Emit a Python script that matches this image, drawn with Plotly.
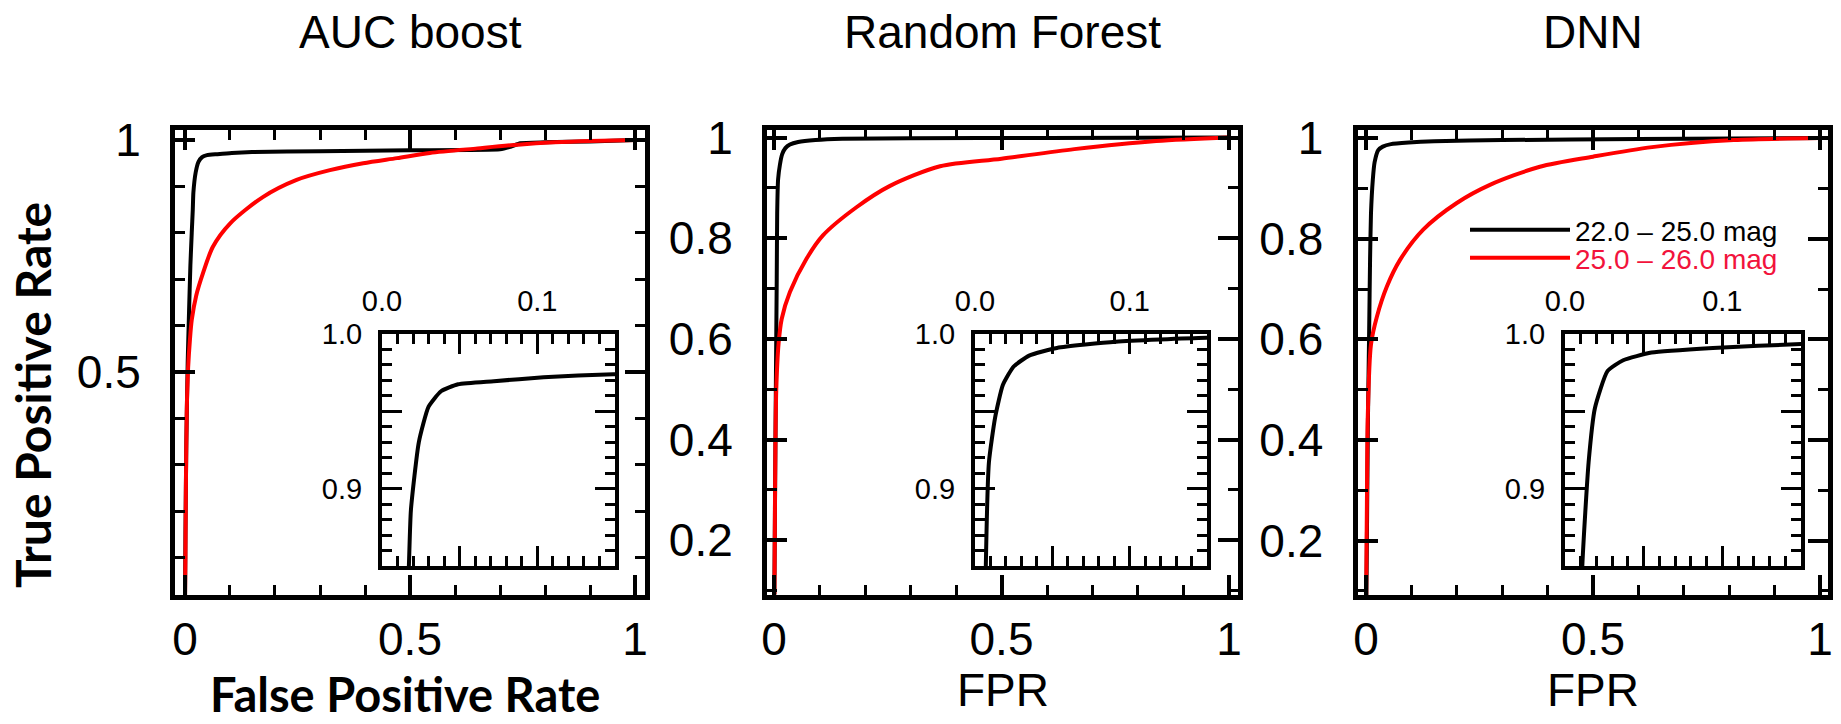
import plotly.graph_objects as go

# ---------------- data ----------------
TITLES = ["AUC boost", "Random Forest", "DNN"]
LEGEND_NAMES = ["22.0 – 25.0 mag", "25.0 – 26.0 mag"]

AUC_FPR_BLACK = [0.0, 0.001, 0.003, 0.006, 0.009, 0.012, 0.015, 0.0173, 0.0186, 0.0237, 0.030, 0.038,
                 0.049, 0.072, 0.104, 0.149, 0.30, 0.50, 0.70, 0.725, 0.745, 0.80, 0.90, 1.0]
AUC_TPR_BLACK = [0.0, 0.15, 0.35, 0.52, 0.63, 0.73, 0.80, 0.85, 0.886, 0.930, 0.953, 0.963,
                 0.9675, 0.9695, 0.972, 0.974, 0.976, 0.978, 0.980, 0.986, 0.993, 0.995, 0.997, 1.0]
AUC_FPR_RED = [0.0, 0.001, 0.002, 0.004, 0.007, 0.011, 0.015, 0.025, 0.04, 0.062, 0.10, 0.173,
               0.248, 0.322, 0.396, 0.471, 0.544, 0.65, 0.74, 0.82, 0.90, 1.0]
AUC_TPR_RED = [0.0, 0.10, 0.25, 0.42, 0.51, 0.57, 0.612, 0.665, 0.713, 0.77, 0.82, 0.877,
               0.914, 0.935, 0.95, 0.961, 0.972, 0.982, 0.99, 0.995, 0.998, 1.0]

RF_FPR_BLACK = [0.0, 0.002, 0.004, 0.006, 0.007, 0.009, 0.013, 0.018, 0.025, 0.035, 0.053, 0.091,
                0.15, 0.30, 0.60, 1.0]
RF_TPR_BLACK = [0.0, 0.25, 0.50, 0.72, 0.85, 0.917, 0.946, 0.967, 0.979, 0.986, 0.991, 0.995,
                0.9975, 0.9985, 0.9993, 1.0]
RF_FPR_RED = [0.0, 0.001, 0.002, 0.003, 0.005, 0.01, 0.017, 0.035, 0.072, 0.108, 0.182, 0.255,
              0.365, 0.50, 0.66, 0.84, 1.0]
RF_TPR_RED = [0.0, 0.10, 0.25, 0.38, 0.50, 0.59, 0.64, 0.693, 0.76, 0.806, 0.862, 0.904,
              0.943, 0.958, 0.977, 0.993, 1.0]

DNN_FPR_BLACK = [0.0, 0.002, 0.004, 0.007, 0.009, 0.011, 0.015, 0.019, 0.027, 0.037, 0.055, 0.094,
                 0.15, 0.30, 0.60, 1.0]
DNN_TPR_BLACK = [0.0, 0.2, 0.42, 0.62, 0.76, 0.85, 0.917, 0.952, 0.976, 0.983, 0.988, 0.991,
                 0.9935, 0.996, 0.998, 1.0]
DNN_FPR_RED = [0.0, 0.0005, 0.002, 0.004, 0.011, 0.024, 0.046, 0.075, 0.126, 0.20, 0.273, 0.383,
               0.50, 0.63, 0.81, 1.0]
DNN_TPR_RED = [0.0, 0.10, 0.27, 0.45, 0.59, 0.645, 0.705, 0.758, 0.818, 0.871, 0.907, 0.943,
               0.963, 0.982, 0.996, 1.0]

INSET_X_TICKS = [0.0, 0.05, 0.10, 0.15]
INSET_X_LABELS = ["0.0", "", "0.1", ""]
INSET_Y_TICKS = [0.85, 0.90, 0.95, 1.0]
INSET_Y_LABELS = ["", "0.9", "", "1.0"]

# ---------------- layout geometry ----------------
W, H = 1841, 724
RED = "#ff0000"
RED_TEXT = "#f2133c"
NUM_FONT = "Liberation Sans, Arial, Helvetica, sans-serif"
BOLD_FONT = "Lato, Open Sans, sans-serif"

MAIN_X_PX = [(175, 645), (767, 1238), (1357.5, 1827.5)]
MAIN_Y_PX = [(130, 595), (129.5, 594.5), (130, 595)]
MAIN_X_RANGE = [(-0.0222, 1.0222), (-0.0154, 1.0198), (-0.0187, 1.0165)]
MAIN_Y_RANGE = [(0.0194, 1.0216), (0.092, 1.016), (0.092, 1.016)]
MAIN_Y_DTICK = [0.5, 0.2, 0.2]
INSET_X_PX = [(382, 615), (975, 1207), (1565, 1801)]
INSET_Y_PX = (334, 566)


def xdom(a, b):
    return [a / W, b / W]


def ydom(a, b):
    return [1 - b / H, 1 - a / H]


def ax_id(n):
    return ("x", "y") if n == 1 else (f"x{n}", f"y{n}")


def ax_key(n):
    return ("xaxis", "yaxis") if n == 1 else (f"xaxis{n}", f"yaxis{n}")


data = [
    (AUC_FPR_BLACK, AUC_TPR_BLACK, AUC_FPR_RED, AUC_TPR_RED),
    (RF_FPR_BLACK, RF_TPR_BLACK, RF_FPR_RED, RF_TPR_RED),
    (DNN_FPR_BLACK, DNN_TPR_BLACK, DNN_FPR_RED, DNN_TPR_RED),
]

fig = go.Figure()

frame = dict(showline=True, linewidth=5, linecolor="black", mirror="allticks",
             ticks="inside", tickcolor="black", showgrid=False, zeroline=False,
             fixedrange=True, automargin=False)

layout = dict(width=W, height=H, autosize=False,
              margin=dict(l=0, r=0, t=0, b=0, pad=0),
              paper_bgcolor="white", plot_bgcolor="rgba(0,0,0,0)",
              showlegend=True)

annotations = []

for i, (fb, tb, fr, tr) in enumerate(data):
    n = i + 1
    xa, ya = ax_id(n)
    kx, ky = ax_key(n)
    fig.add_trace(go.Scatter(x=fb, y=tb, mode="lines", xaxis=xa, yaxis=ya,
                             line=dict(color="black", width=4, shape="spline", smoothing=0.5),
                             name=LEGEND_NAMES[0], showlegend=(i == 2), legend="legend"))
    fig.add_trace(go.Scatter(x=fr, y=tr, mode="lines", xaxis=xa, yaxis=ya,
                             line=dict(color=RED, width=4, shape="spline", smoothing=0.8),
                             name=LEGEND_NAMES[1], showlegend=(i == 2), legend="legend2"))
    layout[kx] = dict(
        frame, domain=xdom(*MAIN_X_PX[i]), range=list(MAIN_X_RANGE[i]), anchor=ya,
        ticklen=20, tickwidth=4, tickmode="linear", tick0=0, dtick=0.5,
        minor=dict(ticks="inside", ticklen=10, tickwidth=3, tickcolor="black",
                   tick0=0, dtick=0.1, showgrid=False),
        tickfont=dict(family=NUM_FONT, size=46, color="black"), ticklabelstandoff=0)
    layout[ky] = dict(
        frame, domain=ydom(*MAIN_Y_PX[i]), range=list(MAIN_Y_RANGE[i]), anchor=xa,
        ticklen=20, tickwidth=4, tickmode="linear", tick0=0, dtick=MAIN_Y_DTICK[i],
        minor=dict(ticks="inside", ticklen=10, tickwidth=3, tickcolor="black",
                   tick0=0, dtick=0.1, showgrid=False),
        tickfont=dict(family=NUM_FONT, size=46, color="black"), ticklabelstandoff=20)

    # inset: zoom on the black curve
    m = i + 4
    xi, yi = ax_id(m)
    kxi, kyi = ax_key(m)
    fig.add_trace(go.Scatter(x=fb, y=tb, mode="lines", xaxis=xi, yaxis=yi,
                             line=dict(color="black", width=4, shape="spline", smoothing=0.5),
                             showlegend=False, name=LEGEND_NAMES[0]))
    layout[kxi] = dict(
        frame, linewidth=4, domain=xdom(*INSET_X_PX[i]), range=[0.0, 0.15], anchor=yi,
        side="top", ticklen=20, tickwidth=3, tickmode="array",
        tickvals=INSET_X_TICKS, ticktext=INSET_X_LABELS,
        minor=dict(ticks="inside", ticklen=10, tickwidth=3, tickcolor="black",
                   tick0=0, dtick=0.01, showgrid=False),
        tickfont=dict(family=NUM_FONT, size=29, color="black"), ticklabelstandoff=7)
    layout[kyi] = dict(
        frame, linewidth=4, domain=ydom(*INSET_Y_PX), range=[0.85, 1.0], anchor=xi,
        ticklen=20, tickwidth=3, tickmode="array",
        tickvals=INSET_Y_TICKS, ticktext=INSET_Y_LABELS,
        minor=dict(ticks="inside", ticklen=10, tickwidth=3, tickcolor="black",
                   tick0=0.85, dtick=0.01, showgrid=False),
        tickfont=dict(family=NUM_FONT, size=29, color="black"), ticklabelstandoff=10)

    # panel title
    annotations.append(dict(text=TITLES[i], xref=f"{xa} domain", x=0.5, yref="paper",
                            y=1 - 32 / H, xanchor="center", yanchor="middle", showarrow=False,
                            font=dict(family=NUM_FONT, size=46, color="black")))
    if i > 0:
        annotations.append(dict(text="FPR", xref=f"{xa} domain", x=0.5, yref="paper",
                                y=1 - 690 / H, xanchor="center", yanchor="middle",
                                showarrow=False,
                                font=dict(family=NUM_FONT, size=46, color="black")))

annotations.append(dict(text="<b>False Positive Rate</b>", xref="paper", x=405 / W, yref="paper",
                        y=0, xanchor="center", yanchor="bottom", showarrow=False,
                        font=dict(family=BOLD_FONT, size=47, color="black")))
annotations.append(dict(text="<b>True Positive Rate</b>", xref="paper", x=32 / W, yref="paper",
                        y=1 - 395 / H, xanchor="center", yanchor="middle", showarrow=False,
                        textangle=-90,
                        font=dict(family=BOLD_FONT, size=48, color="black")))

layout["annotations"] = annotations
legend_common = dict(x=1465 / W, xanchor="left", yanchor="middle",
                     bgcolor="rgba(0,0,0,0)", borderwidth=0, itemwidth=100)
layout["legend"] = dict(legend_common, y=1 - 230 / H,
                        font=dict(family=NUM_FONT, size=28, color="black"))
layout["legend2"] = dict(legend_common, y=1 - 258 / H,
                         font=dict(family=NUM_FONT, size=28, color=RED_TEXT))

fig.update_layout(**layout)
fig.write_html("out.html", config={"displayModeBar": False},
               post_script="document.body.style.margin='0px';")
